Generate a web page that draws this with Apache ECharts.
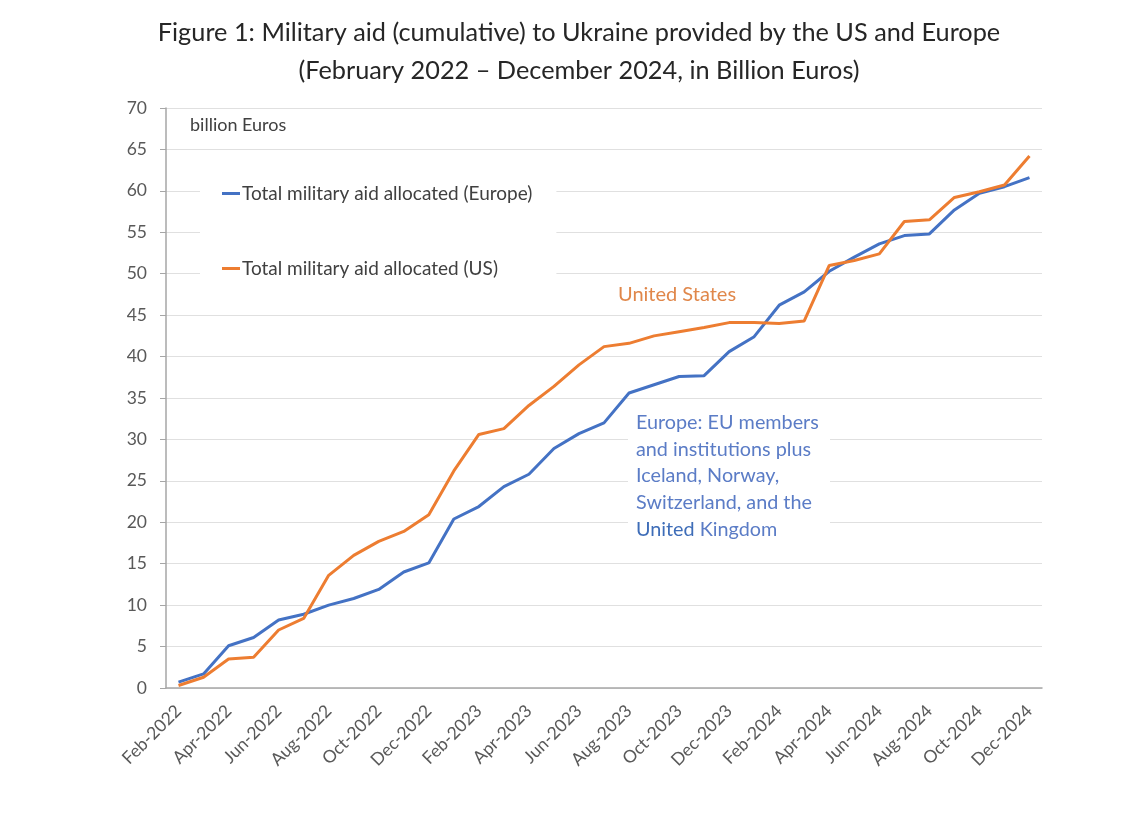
<!DOCTYPE html>
<html>
<head>
<meta charset="utf-8">
<script src="https://cdn.jsdelivr.net/npm/echarts@6/dist/echarts.min.js"></script>
<style>
html,body{margin:0;padding:0;background:#fff;}
#c{width:1125px;height:814px;}
</style>
</head>
<body>
<div id="c"></div>
<script>
var months = ['Feb-2022','Mar-2022','Apr-2022','May-2022','Jun-2022','Jul-2022','Aug-2022','Sep-2022','Oct-2022','Nov-2022','Dec-2022',
  'Jan-2023','Feb-2023','Mar-2023','Apr-2023','May-2023','Jun-2023','Jul-2023','Aug-2023','Sep-2023','Oct-2023','Nov-2023','Dec-2023',
  'Jan-2024','Feb-2024','Mar-2024','Apr-2024','May-2024','Jun-2024','Jul-2024','Aug-2024','Sep-2024','Oct-2024','Nov-2024','Dec-2024'];
var europe = [0.7,1.7,5.1,6.1,8.2,8.9,10.0,10.8,11.9,14.0,15.1,
  20.4,21.9,24.3,25.8,28.9,30.7,32.0,35.6,36.6,37.6,37.7,40.6,
  42.4,46.2,47.8,50.3,52.0,53.6,54.6,54.8,57.7,59.7,60.5,61.6];
var us = [0.3,1.3,3.5,3.7,7.0,8.4,13.6,16.0,17.7,18.9,20.9,
  26.2,30.6,31.3,34.1,36.4,39.0,41.2,41.6,42.5,43.0,43.5,44.1,
  44.1,44.0,44.3,51.0,51.6,52.4,56.3,56.5,59.2,59.9,60.7,64.2];
var seriesNames = ['Total military aid allocated (Europe)','Total military aid allocated (US)'];
var titleLines = ['Figure 1: Military aid (cumulative) to Ukraine provided by the US and Europe','(February 2022 \u2013 December 2024, in Billion Euros)'];
var unitLabel = 'billion Euros';
var usNote = 'United States';
var europeNote = ['Europe: EU members','and institutions plus','Iceland, Norway,','Switzerland, and the'];

var FONT = 'Lato, "Open Sans", sans-serif';
var chart = echarts.init(document.getElementById('c'));
var option = {
  backgroundColor: '#fff',
  animation: false,
  title: {
    text: titleLines.join('\n'),
    left: 579, top: 14, textAlign: 'center', padding: 0,
    textStyle: {fontFamily: FONT, fontSize: 25.3, fontWeight: 'normal', color: '#262626', lineHeight: 38}
  },
  legend: {
    orient: 'vertical',
    left: 200, top: 173,
    padding: [11, 24, 11, 22],
    backgroundColor: '#fff',
    itemGap: 56,
    itemWidth: 18, itemHeight: 3,
    icon: 'rect',
    textStyle: {fontFamily: FONT, fontSize: 19, color: '#404040', padding: [0,0,0,-3]},
    data: seriesNames
  },
  grid: {left: 166, right: 83, top: 108, bottom: 126},
  xAxis: {
    type: 'category',
    data: months,
    boundaryGap: true,
    axisLine: {lineStyle: {color: '#a6a6a6', width: 1.5}},
    axisTick: {show: false},
    axisLabel: {interval: 1, rotate: 45, fontFamily: FONT, fontSize: 17.5, color: '#595959', margin: 20}
  },
  yAxis: {
    type: 'value',
    min: 0, max: 70, interval: 5,
    axisLine: {show: true, lineStyle: {color: '#a6a6a6', width: 1.5}},
    axisTick: {show: true, length: 6, lineStyle: {color: '#a6a6a6'}},
    axisLabel: {fontFamily: FONT, fontSize: 17.5, color: '#595959', margin: 19},
    splitLine: {lineStyle: {color: '#e0e0e0', width: 1}}
  },
  series: [
    {name: seriesNames[0], type: 'line', data: europe, showSymbol: false, symbol: 'none',
     lineStyle: {color: '#4472C4', width: 3}, itemStyle: {color: '#4472C4'}, z: 3},
    {name: seriesNames[1], type: 'line', data: us, showSymbol: false, symbol: 'none',
     lineStyle: {color: '#ED7D31', width: 3}, itemStyle: {color: '#ED7D31'}, z: 4}
  ],
  graphic: [
    {type: 'text', left: 190, top: 116, z: 10,
     style: {text: unitLabel, font: '18px ' + FONT, fill: '#404040'}},
    {type: 'text', left: 618, top: 285, z: 10,
     style: {text: usNote, font: '20px ' + FONT, fill: '#E0874A'}},
    {type: 'rect', left: 628, top: 408, z: 5,
     shape: {width: 202, height: 138}, style: {fill: '#fff'}},
    {type: 'text', left: 636, top: 409, z: 10,
     style: {
       text: europeNote.join('\n') + '\n{d|United} Kingdom',
       font: '19.8px ' + FONT, fill: '#5B7CC6', lineHeight: 26.8,
       rich: {d: {fill: '#3E6DB8', font: '19.8px ' + FONT}}
     }}
  ]
};
chart.setOption(option);
</script>
</body>
</html>
